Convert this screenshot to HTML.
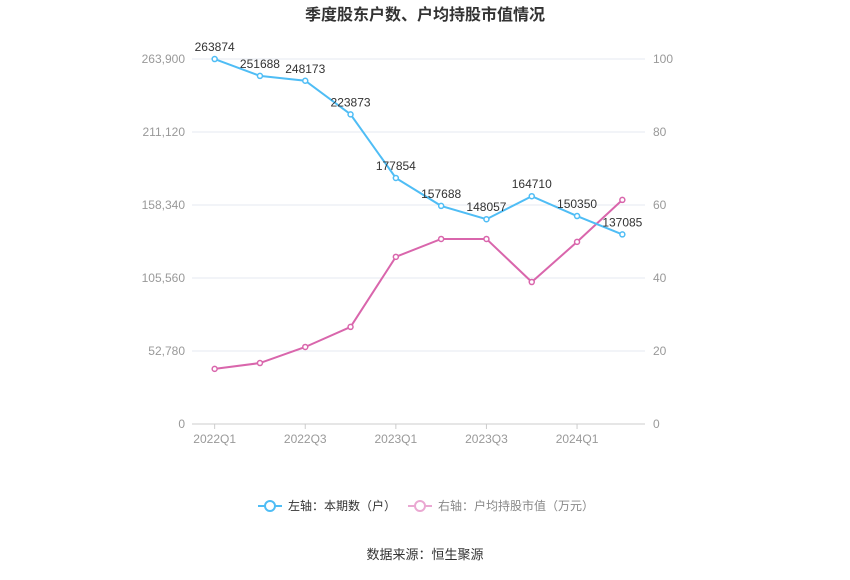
<!DOCTYPE html>
<html><head><meta charset="utf-8"><style>
body{margin:0;background:#fff;font-family:"Liberation Sans","Noto Sans CJK SC",sans-serif;}
</style></head><body>
<svg width="850" height="575" xmlns="http://www.w3.org/2000/svg" font-family="Liberation Sans, Noto Sans CJK SC, sans-serif">
<text x="425" y="20" text-anchor="middle" font-size="16" font-weight="bold" fill="#333">季度股东户数、户均持股市值情况</text>
<g id="grid"></g><g id="axes"></g><g id="series"></g>
<g>
<g>
<line x1="258" y1="506" x2="282" y2="506" stroke="#4fbdf5" stroke-width="2"/><circle cx="270" cy="506" r="5" fill="#fff" stroke="#4fbdf5" stroke-width="2"/>
<text x="288" y="510" font-size="12" fill="#333">左轴：本期数（户）</text></g>
<g>
<line x1="408" y1="506" x2="432" y2="506" stroke="#eaa8d2" stroke-width="2"/><circle cx="420" cy="506" r="5" fill="#fff" stroke="#eaa8d2" stroke-width="2"/>
<text x="438" y="510" font-size="12" fill="#888">右轴：户均持股市值（万元）</text></g>
</g>
<text x="425" y="559" text-anchor="middle" font-size="13" fill="#333">数据来源：恒生聚源</text>
</svg>
<script>
const categories=["2022Q1","2022Q2","2022Q3","2022Q4","2023Q1","2023Q2","2023Q3","2023Q4","2024Q1","2024Q2"];
const holders=[263874,251688,248173,223873,177854,157688,148057,164710,150350,137085];
const avgValue=[15.1,16.7,21.1,26.6,45.8,50.7,50.7,38.9,49.9,61.4];
const leftTicks=[0,52780,105560,158340,211120,263900];
const rightTicks=[0,20,40,60,80,100];
const NS="http://www.w3.org/2000/svg";
const x0=192,x1=645,yTop=59,yBot=424;
const step=(x1-x0)/categories.length;
const xs=i=>x0+step*(i+0.5);
const yL=v=>yBot-(v/263900)*(yBot-yTop);
const yR=v=>yBot-(v/100)*(yBot-yTop);
function mk(tag,attrs,parent,text){const e=document.createElementNS(NS,tag);for(const k in attrs)e.setAttribute(k,attrs[k]);if(text!==undefined)e.textContent=text;parent.appendChild(e);return e;}
const grid=document.getElementById('grid'),axes=document.getElementById('axes'),ser=document.getElementById('series');
leftTicks.forEach((t,i)=>{const y=yL(t);
 const g=mk('line',{x1:x0,x2:x1,y1:y,y2:y,stroke:i==0?'#ccc':'#e6e9f0'},grid);
 
 
 const lt=mk('text',{x:185,y:y+4,'text-anchor':'end','font-size':12,fill:'#999'},axes,t.toLocaleString('en-US'));
 
 
});
rightTicks.forEach(t=>{const rt=mk('text',{x:653,y:yR(t)+4,'font-size':12,fill:'#999'},axes,String(t));
 
 
});
categories.forEach((c,i)=>{if(i%2==0){const xx=x0+step*i+step/2;
 const tk=mk('line',{x1:xx,x2:xx,y1:yBot,y2:yBot+5,stroke:'#ccc'},axes);
 
 
 const xt=mk('text',{x:xx,y:yBot+19,'text-anchor':'middle','font-size':12,fill:'#999'},axes,c);
 
 }});
function series(vals,yf,color,name,labels){
 const pl=mk('polyline',{points:vals.map((v,i)=>xs(i)+','+yf(v)).join(' '),fill:'none',stroke:color,'stroke-width':2},ser);
 
 
 vals.forEach((v,i)=>{const c=mk('circle',{cx:xs(i),cy:yf(v),r:2.5,fill:'#fff',stroke:color,'stroke-width':1.5},ser);
  
  
  if(labels){const t=mk('text',{x:xs(i),y:yf(v)-8,'text-anchor':'middle','font-size':12,fill:'#333'},ser,String(v));
   
   }
 });
}
series(avgValue,yR,'#d966ac','avg-value',false);
series(holders,yL,'#4fbdf5','holders',true);
</script>
</body></html>
